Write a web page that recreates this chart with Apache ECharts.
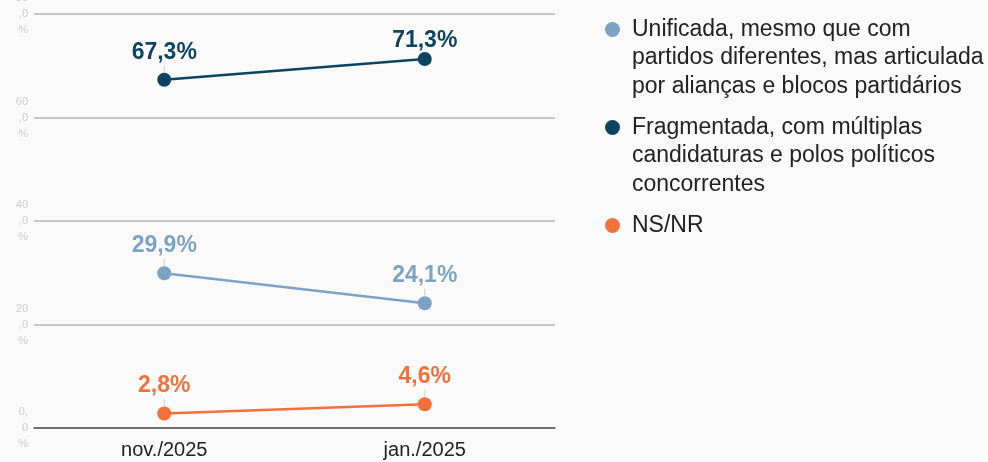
<!DOCTYPE html>
<html>
<head>
<meta charset="utf-8">
<script src="https://cdn.jsdelivr.net/npm/echarts@6/dist/echarts.min.js"></script>
<style>
  html, body { margin: 0; padding: 0; background: #fafafa; }
  #chart { width: 988px; height: 462px; }
</style>
</head>
<body>
<div id="chart"></div>
<script>
// categorias do eixo x
var CATEGORIES = ["nov./2025", "jan./2025"];
// nomes das séries
var NAMES = [
  "Unificada, mesmo que com partidos diferentes, mas articulada por alianças e blocos partidários",
  "Fragmentada, com múltiplas candidaturas e polos políticos concorrentes",
  "NS/NR"
];
// quebras de linha da legenda
var LEGEND_LINES = [
  ["Unificada, mesmo que com", "partidos diferentes, mas articulada", "por alianças e blocos partidários"],
  ["Fragmentada, com múltiplas", "candidaturas e polos políticos", "concorrentes"],
  ["NS/NR"]
];
// valores (%)
var UNIFICADA = [29.9, 24.1];
var FRAGMENTADA = [67.3, 71.3];
var NSNR = [2.8, 4.6];
// cores
var COLORS = ["#7ca3c5", "#0c4462", "#f4703a"];

var FONT = "Liberation Sans, Arial, sans-serif";

var chart = echarts.init(document.getElementById("chart"));

function pct(v) {
  return v.toFixed(1).replace(".", ",") + "%";
}

function lineSeries(idx, data) {
  return {
    name: NAMES[idx],
    type: "line",
    data: data,
    symbol: "circle",
    symbolSize: 14,
    color: COLORS[idx],
    lineStyle: { width: 2.5, color: COLORS[idx] },
    itemStyle: { color: COLORS[idx] },
    label: {
      show: true,
      position: "top",
      distance: 0,
      fontFamily: FONT,
      fontSize: 23,
      fontWeight: "bold",
      color: COLORS[idx],
      textBorderColor: "#ffffff",
      textBorderWidth: 3,
      formatter: function (p) { return pct(p.value); }
    },
    labelLine: {
      show: true,
      lineStyle: { color: "#cfcfcf", width: 1 }
    },
    labelLayout: function (p) {
      // o rótulo de 71,3% fica colado ao ponto
      if (p.seriesIndex === 1 && p.dataIndex === 1) return {};
      return { dy: -9 };
    }
  };
}

// legenda com rich text: bolinha alinhada à primeira linha
var rich = {
  t: { fontSize: 23, color: "#222", lineHeight: 28.5, fontFamily: FONT },
  sp: { width: 27, lineHeight: 28.5 }
};
COLORS.forEach(function (c, i) {
  rich["d" + i] = { width: 15, height: 15, borderRadius: 8, backgroundColor: c };
  rich["g" + i] = { width: 12 };
});

chart.setOption({
  backgroundColor: "#fafafa",
  animation: false,
  grid: { left: 34, right: 433, top: 14, bottom: 34, containLabel: false, outerBoundsMode: "none" },
  legend: {
    orient: "vertical",
    left: 595,
    top: 13,
    icon: "none",
    itemWidth: 0,
    itemGap: 18,
    data: NAMES,
    textStyle: { rich: rich },
    formatter: function (name) {
      var i = NAMES.indexOf(name);
      return LEGEND_LINES[i].map(function (line, k) {
        var pre = k === 0 ? "{d" + i + "|}{g" + i + "|}" : "{sp|}";
        return pre + "{t|" + line + "}";
      }).join("\n");
    }
  },
  xAxis: {
    type: "category",
    data: CATEGORIES,
    axisLine: { lineStyle: { color: "#555", width: 1.5 } },
    axisTick: { show: false },
    axisLabel: {
      color: "#222",
      fontSize: 20,
      margin: 12,
      fontFamily: FONT
    }
  },
  yAxis: {
    type: "value",
    min: 0,
    max: 80,
    interval: 20,
    axisLine: { show: false },
    axisTick: { show: false },
    splitLine: { lineStyle: { color: "#b4b4b4", width: 1.5 } },
    axisLabel: {
      color: "#cdcdcd",
      fontSize: 11,
      lineHeight: 16,
      margin: 6,
      fontFamily: FONT,
      formatter: function (v) {
        if (v === 0) return "0,\n0\n%";
        return v + "\n,0\n%";
      }
    }
  },
  series: [
    lineSeries(0, UNIFICADA),
    lineSeries(1, FRAGMENTADA),
    lineSeries(2, NSNR)
  ]
});
</script>
</body>
</html>
